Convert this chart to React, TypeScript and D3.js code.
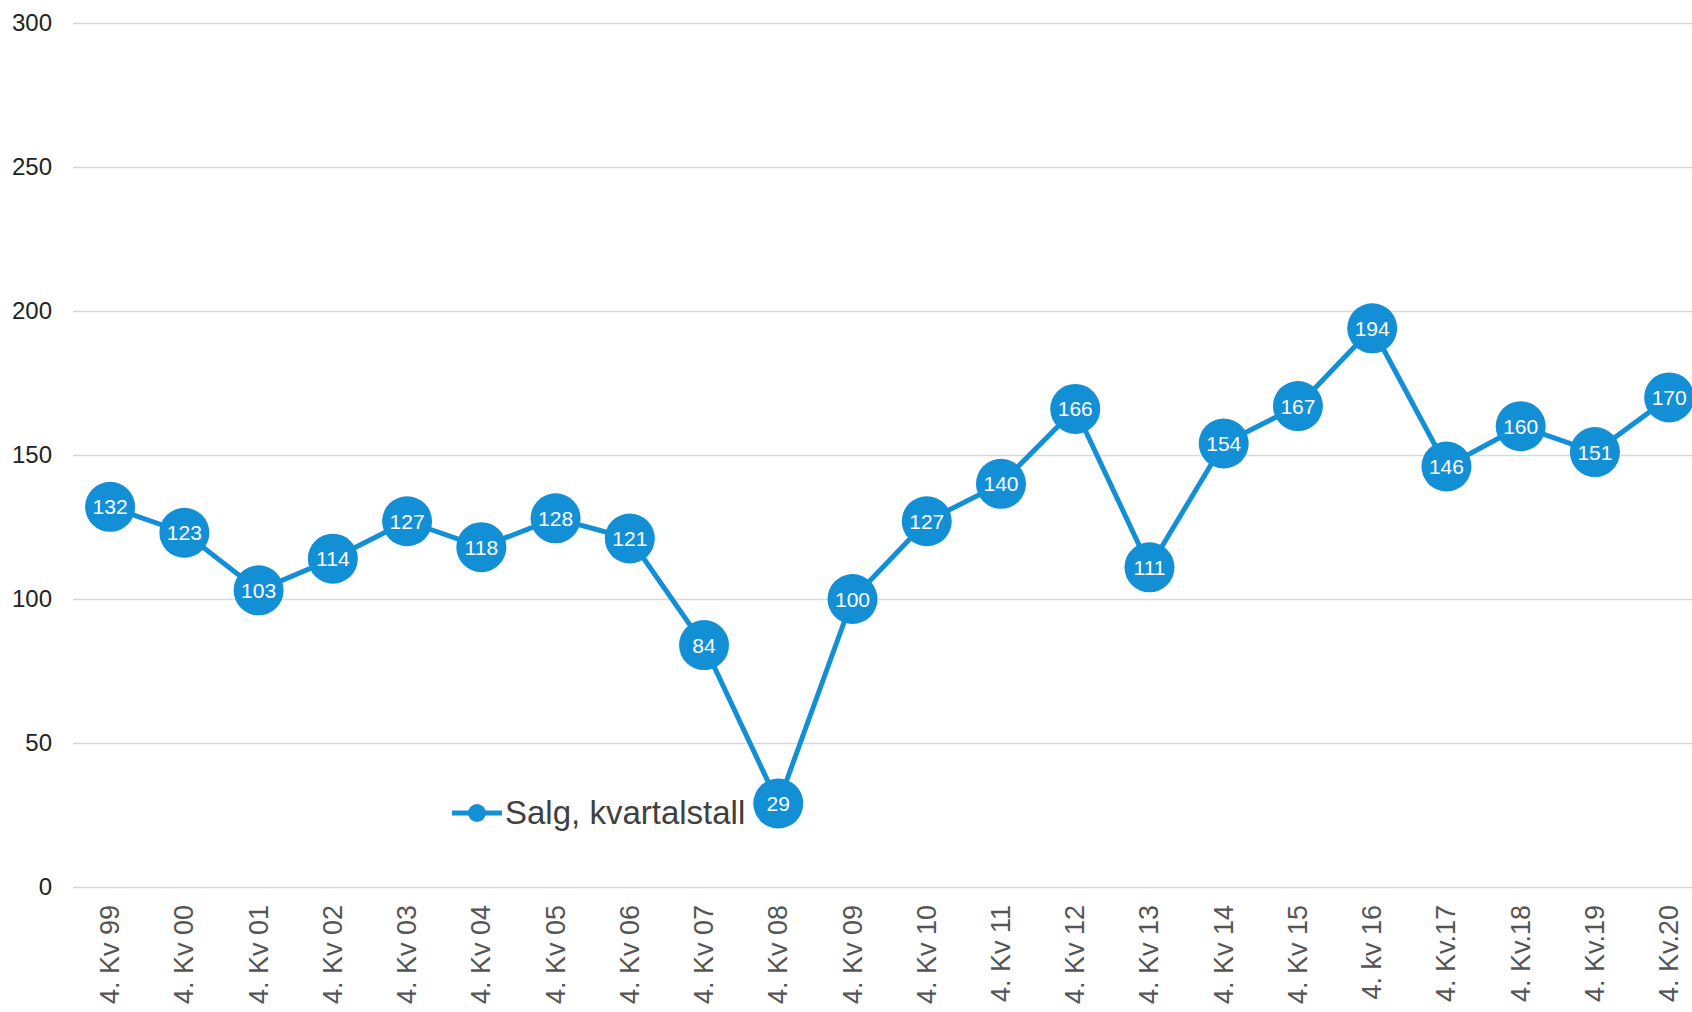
import React, { useEffect, useRef } from 'react';
import * as d3 from 'd3';

const categories = [
  '4. Kv 99', '4. Kv 00', '4. Kv 01', '4. Kv 02', '4. Kv 03', '4. Kv 04',
  '4. Kv 05', '4. Kv 06', '4. Kv 07', '4. Kv 08', '4. Kv 09', '4. Kv 10',
  '4. Kv 11', '4. Kv 12', '4. Kv 13', '4. Kv 14', '4. Kv 15', '4. kv 16',
  '4. Kv.17', '4. Kv.18', '4. Kv.19', '4. Kv.20',
];
const salg = [
  132, 123, 103, 114, 127, 118, 128, 121, 84, 29, 100, 127,
  140, 166, 111, 154, 167, 194, 146, 160, 151, 170,
];
const yTicks = [0, 50, 100, 150, 200, 250, 300];
const seriesName = 'Salg, kvartalstall';

const WIDTH = 1692;
const HEIGHT = 1012;
const BLUE = '#138fd6';

const Chart = () => {
  const svgRef = useRef<SVGSVGElement>(null);

  useEffect(() => {
    const svg = d3.select(svgRef.current);
    svg.selectAll('*').remove();

    const left = 73;
    const step = 74.24;
    const top = 23;
    const bottom = 887;

    const x = d3
      .scaleBand<string>()
      .domain(categories)
      .range([left, left + step * categories.length]);
    const y = d3.scaleLinear().domain([0, 300]).range([bottom, top]);
    const cx = (c: string) => (x(c) as number) + x.bandwidth() / 2;

    // gridlines + y labels
    const yAxis = svg
      .append('g')
      .attr('transform', `translate(${left},0)`)
      .call(
        d3
          .axisLeft(y)
          .tickValues(yTicks)
          .tickSize(-(WIDTH - left))
          .tickPadding(21)
      );
    yAxis.select('.domain').remove();
    yAxis.selectAll('.tick line').attr('stroke', '#d9d9d9').attr('stroke-width', 1.5);
    yAxis
      .selectAll('.tick text')
      .attr('font-family', 'Liberation Sans, Arial, sans-serif')
      .attr('font-size', 24)
      .attr('fill', '#222');

    // x labels, rotated
    svg
      .append('g')
      .selectAll('text')
      .data(categories)
      .join('text')
      .attr('transform', d => `translate(${cx(d) + 9},905) rotate(-90)`)
      .attr('text-anchor', 'end')
      .attr('font-family', 'Liberation Sans, Arial, sans-serif')
      .attr('font-size', 27)
      .attr('fill', '#555')
      .text(d => d);

    const line = d3
      .line<number>()
      .x((d, i) => cx(categories[i]))
      .y(d => y(d));

    svg
      .append('path')
      .datum(salg)
      .attr('fill', 'none')
      .attr('stroke', BLUE)
      .attr('stroke-width', 5)
      .attr('stroke-linejoin', 'round')
      .attr('d', line);

    // legend
    const legend = svg.append('g');
    legend
      .append('line')
      .attr('x1', 452)
      .attr('x2', 502)
      .attr('y1', 813)
      .attr('y2', 813)
      .attr('stroke', BLUE)
      .attr('stroke-width', 5);
    legend.append('circle').attr('cx', 477).attr('cy', 813).attr('r', 9).attr('fill', BLUE);
    legend
      .append('text')
      .attr('x', 505)
      .attr('y', 824)
      .attr('font-family', 'Liberation Sans, Arial, sans-serif')
      .attr('font-size', 33)
      .attr('fill', '#404040')
      .text(seriesName);

    const pts = svg
      .append('g')
      .selectAll('g')
      .data(salg)
      .join('g')
      .attr('transform', (d, i) => `translate(${cx(categories[i])},${y(d)})`);
    pts.append('circle').attr('r', 25).attr('fill', BLUE);
    pts
      .append('text')
      .attr('text-anchor', 'middle')
      .attr('dy', '0.36em')
      .attr('font-family', 'Liberation Sans, Arial, sans-serif')
      .attr('font-size', 21)
      .attr('fill', '#fff')
      .text(d => d);
  }, []);

  return (
    <svg
      ref={svgRef}
      width={WIDTH}
      height={HEIGHT}
      style={{ position: 'absolute', left: 0, top: 0, background: '#fff' }}
    ></svg>
  );
};

export default function App() {
  return <Chart />;
}
